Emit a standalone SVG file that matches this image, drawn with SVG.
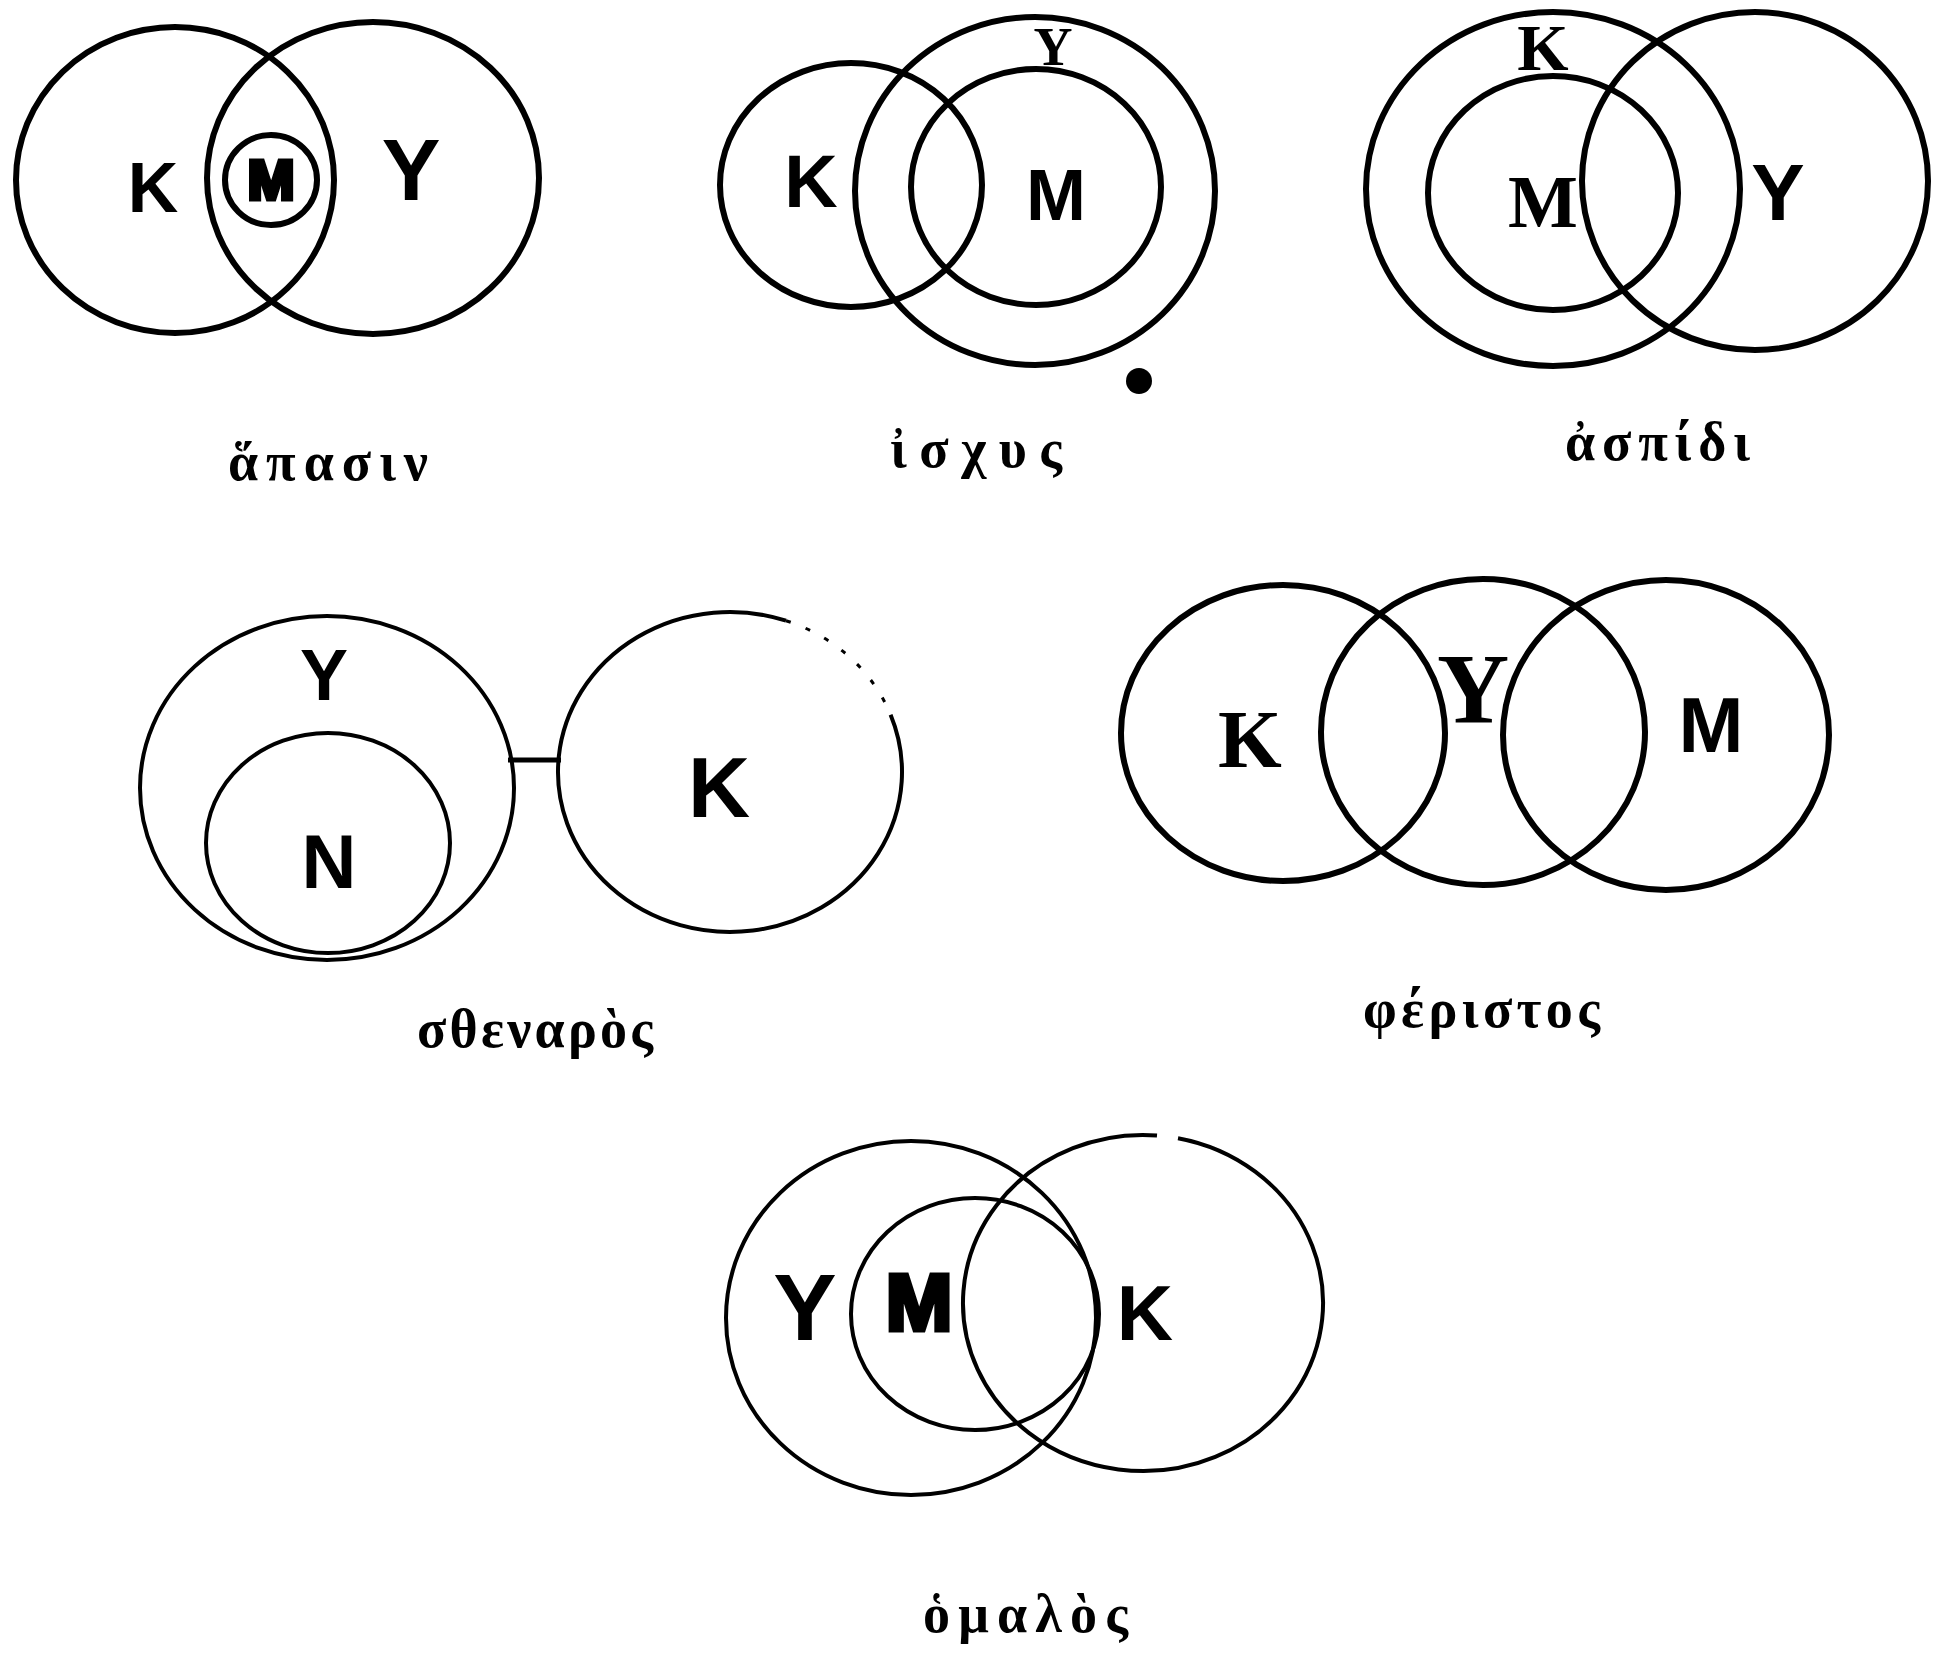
<svg xmlns="http://www.w3.org/2000/svg" width="1933" height="1654" viewBox="0 0 1933 1654">
<style>
.c{fill:none;stroke:#000;stroke-width:6}
.t{fill:none;stroke:#000;stroke-width:4}
.L{font-family:"Liberation Sans","DejaVu Sans",sans-serif;font-weight:bold;fill:#000;text-anchor:middle}
.S{font-family:"Liberation Serif","DejaVu Serif",serif;font-weight:bold;fill:#000;text-anchor:middle}
.B{font-family:"Liberation Sans","DejaVu Sans",sans-serif;font-weight:bold;fill:#000;stroke:#000;stroke-width:5;text-anchor:middle}
.g{font-family:"Liberation Serif","DejaVu Serif",serif;font-size:54px;font-weight:bold;fill:#000}
</style>
<rect width="1933" height="1654" fill="#fff"/>

<g id="d1-hapasin">
  <ellipse class="c" cx="175" cy="180" rx="159" ry="153"/>
  <ellipse class="c" cx="373" cy="178" rx="166" ry="156"/>
  <ellipse class="c" cx="271" cy="180" rx="46" ry="45"/>
  <text class="L" x="153" y="212" font-size="70">K</text>
  <text class="L" x="411" y="200" font-size="88">Y</text>
  <text class="B" x="271" y="199" font-size="56">M</text>
  <text class="g" x="228" y="480" textLength="200" lengthAdjust="spacing">ἅπασιν</text>
</g>

<g id="d2-ischys">
  <ellipse class="c" cx="851" cy="185" rx="131" ry="122"/>
  <ellipse class="c" cx="1035" cy="191" rx="180" ry="174"/>
  <ellipse class="c" cx="1036" cy="187" rx="125" ry="118"/>
  <text class="L" x="811" y="207" font-size="74">K</text>
  <text class="L" x="1056" y="220" font-size="72">M</text>
  <text class="S" x="1053" y="65" font-size="54">Y</text>
  <circle cx="1139" cy="381" r="13" fill="#000"/>
  <text class="g" x="890" y="467" textLength="172" lengthAdjust="spacing">ἰσχυς</text>
</g>

<g id="d3-aspidi">
  <ellipse class="c" cx="1553" cy="189" rx="187" ry="177"/>
  <ellipse class="c" cx="1553" cy="193" rx="125" ry="117"/>
  <ellipse class="c" cx="1755" cy="181" rx="173" ry="169"/>
  <text class="S" x="1543" y="70" font-size="66">K</text>
  <text class="S" x="1543" y="227" font-size="74">M</text>
  <text class="L" x="1778" y="220" font-size="80">Y</text>
  <text class="g" x="1565" y="460" textLength="185" lengthAdjust="spacing">ἀσπίδι</text>
</g>

<g id="d4-sthenaros">
  <ellipse class="t" cx="327" cy="788" rx="187" ry="172"/>
  <ellipse class="t" cx="328" cy="843" rx="122" ry="110"/>
  <path class="t" d="M890.6 714.7 A172 160 0 1 1 786 620.7"/>
  <path d="M786 620.7 A172 160 0 0 1 890.6 714.7" fill="none" stroke="#000" stroke-width="3" stroke-dasharray="5 16"/>
  <text class="L" x="324" y="700" font-size="72">Y</text>
  <text class="L" x="329" y="888" font-size="76">N</text>
  <text class="L" x="719" y="817" font-size="86">K</text>
  <text class="g" x="417" y="1047" textLength="236" lengthAdjust="spacing">σθεναρὸς</text>
</g>

<g id="d5-pheristos">
  <ellipse class="c" cx="1283" cy="733" rx="162" ry="148"/>
  <ellipse class="c" cx="1483" cy="732" rx="162" ry="153"/>
  <ellipse class="c" cx="1666" cy="735" rx="163" ry="155"/>
  <text class="S" x="1250" y="767" font-size="82">K</text>
  <text class="S" x="1473" y="722" font-size="100">Y</text>
  <text class="L" x="1711" y="752" font-size="78">M</text>
  <text class="g" x="1363" y="1027" textLength="237" lengthAdjust="spacing">φέριστος</text>
</g>

<g id="d6-homalos">
  <ellipse class="t" cx="911" cy="1318" rx="185" ry="177"/>
  <ellipse class="t" cx="975" cy="1314" rx="124" ry="116"/>
  <path class="t" d="M1178 1138.2 A180 168 0 1 1 1157 1135.5"/>
  <text class="L" x="805" y="1340" font-size="95">Y</text>
  <text class="B" x="919" y="1330" font-size="80">M</text>
  <text class="L" x="1145" y="1340" font-size="78">K</text>
  <text class="g" x="923" y="1632" textLength="205" lengthAdjust="spacing">ὁμαλὸς</text>
</g>

<g id="connectors">
  <line x1="508" y1="760" x2="561" y2="760" stroke="#000" stroke-width="5"/>
</g>
</svg>
